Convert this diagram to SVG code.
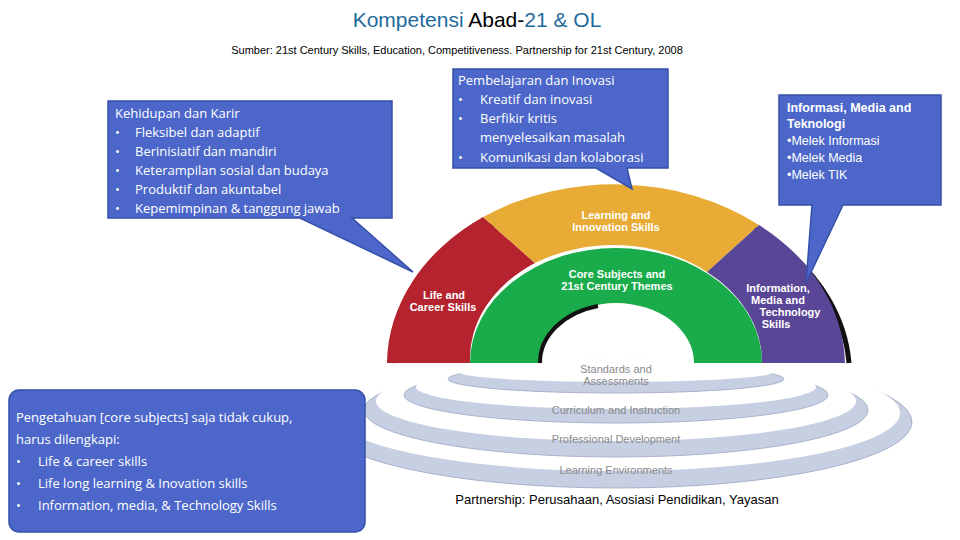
<svg xmlns="http://www.w3.org/2000/svg" width="960" height="540" viewBox="0 0 960 540">
<style>
.co{fill:#4c67c9;stroke:#3550a8;stroke-width:1.5}
.ct{fill:#fff;font-family:"Open Sans","Liberation Sans",sans-serif;font-size:13px}
.it{fill:#fff;font-family:"Liberation Sans",sans-serif;font-size:12.5px}
.rl{fill:#fff;font-family:"Liberation Sans",sans-serif;font-size:11px;font-weight:bold;text-anchor:middle}
.gl{fill:#8a8a8a;font-family:"Liberation Sans",sans-serif;font-size:11px;text-anchor:middle}
.band{fill:#c7cfe3;stroke:#aab3cc;stroke-width:1}
</style>
<rect width="960" height="540" fill="#fff"/>
<text x="477" y="27" text-anchor="middle" font-family="Liberation Sans,sans-serif" font-size="21" fill="#1f6a9c">Kompetensi <tspan fill="#000">Abad-</tspan>21 &amp; OL</text>
<text x="457" y="54" text-anchor="middle" font-family="Liberation Sans,sans-serif" font-size="11" fill="#000">Sumber: 21st Century Skills, Education, Competitiveness. Partnership for 21st Century, 2008</text>
<g id="rings">
<ellipse class="band" cx="616" cy="422" rx="296" ry="66"/><ellipse cx="616" cy="413" rx="284" ry="58" fill="#fff"/>
<ellipse class="band" cx="616" cy="410" rx="252" ry="47"/><ellipse cx="616" cy="401" rx="240" ry="40" fill="#fff"/>
<ellipse class="band" cx="616" cy="395" rx="212" ry="28"/><ellipse cx="616" cy="387" rx="200" ry="22" fill="#fff"/>
<ellipse class="band" cx="616" cy="379" rx="168" ry="14"/><ellipse cx="616" cy="372" rx="157" ry="10" fill="#fff"/>
<text class="gl" x="616" y="373">Standards and</text><text class="gl" x="616" y="385">Assessments</text>
<text class="gl" x="616" y="414">Curriculum and Instruction</text>
<text class="gl" x="616" y="443">Professional Development</text>
<text class="gl" x="616" y="474">Learning Environments</text>
</g>
<g id="rainbow">
<path d="M392 363 A229 181 0 0 1 849 363" fill="none" stroke="#111" stroke-width="5"/>
<path d="M387 363 A229 181 0 0 1 483 217 L535 263 A146 115 0 0 0 470 363 Z" fill="#b5242e"/>
<path d="M483 217 A229 181 0 0 1 759 225 L707 272 A146 115 0 0 0 535 263 Z" fill="#e8ab35"/>
<path d="M759 225 A229 181 0 0 1 845 363 L762 363 A146 115 0 0 0 707 272 Z" fill="#5a4697"/>
<path d="M470 363 A146 115 0 0 1 762 363 L694 363 A78 60 0 0 0 538 363 Z" fill="#1aac4a"/>
<path d="M540 363 A76 58 0 0 1 598 306" fill="none" stroke="#111" stroke-width="4"/>
<text class="rl" x="616" y="219" font-weight="normal">Learning and</text><text class="rl" x="616" y="231" font-weight="normal">Innovation Skills</text>
<text class="rl" x="617" y="278">Core Subjects and</text><text class="rl" x="617" y="290">21st Century Themes</text>
<text class="rl" x="444" y="299">Life and</text><text class="rl" x="443" y="311">Career Skills</text>
<text class="rl" x="778" y="292">Information,</text><text class="rl" x="778" y="304">Media and</text><text class="rl" x="790" y="316">Technology</text><text class="rl" x="776" y="328">Skills</text>
</g>
<g id="callout-life">
<path class="co" d="M108 101 H392 V218 H352 L413 272 L300 218 H108 Z"/>
<text class="ct" x="115" y="118">Kehidupan dan Karir</text>
<text class="ct" y="137"><tspan x="115">•</tspan><tspan x="135">Fleksibel dan adaptif</tspan></text>
<text class="ct" y="156"><tspan x="115">•</tspan><tspan x="135">Berinisiatif dan mandiri</tspan></text>
<text class="ct" y="175"><tspan x="115">•</tspan><tspan x="135">Keterampilan sosial dan budaya</tspan></text>
<text class="ct" y="194"><tspan x="115">•</tspan><tspan x="135">Produktif dan akuntabel</tspan></text>
<text class="ct" y="213"><tspan x="115">•</tspan><tspan x="135">Kepemimpinan &amp; tanggung jawab</tspan></text>
</g>
<g id="callout-learning">
<path class="co" d="M453 69 H668 V168 H627 L632 189 L596 168 H453 Z"/>
<text class="ct" x="458" y="85">Pembelajaran dan Inovasi</text>
<text class="ct" y="104"><tspan x="458">•</tspan><tspan x="480">Kreatif dan inovasi</tspan></text>
<text class="ct" y="123"><tspan x="458">•</tspan><tspan x="480">Berfikir kritis</tspan></text>
<text class="ct" x="480" y="142">menyelesaikan masalah</text>
<text class="ct" y="162"><tspan x="458">•</tspan><tspan x="480">Komunikasi dan kolaborasi</tspan></text>
</g>
<g id="callout-info">
<path class="co" d="M779 95 H941 V205 H843 L806 283 L812 205 H779 Z"/>
<text class="it" x="787" y="112" font-weight="bold" font-size="12">Informasi, Media and</text>
<text class="it" x="787" y="128" font-weight="bold" font-size="12">Teknologi</text>
<text class="it" x="787" y="145">•Melek Informasi</text>
<text class="it" x="787" y="162">•Melek Media</text>
<text class="it" x="787" y="179">•Melek TIK</text>
</g>
<g id="callout-core">
<rect class="co" x="9" y="390" width="356" height="142" rx="10"/>
<text class="ct" x="16" y="422" font-size="15">Pengetahuan [core subjects] saja tidak cukup,</text>
<text class="ct" x="16" y="444" font-size="15">harus dilengkapi:</text>
<text class="ct" y="466" font-size="15"><tspan x="16">•</tspan><tspan x="38">Life &amp; career skills</tspan></text>
<text class="ct" y="488" font-size="15"><tspan x="16">•</tspan><tspan x="38">Life long learning &amp; Inovation skills</tspan></text>
<text class="ct" y="510" font-size="15"><tspan x="16">•</tspan><tspan x="38">Information, media, &amp; Technology Skills</tspan></text>
</g>
<text x="617" y="504" text-anchor="middle" font-family="Liberation Sans,sans-serif" font-size="13" fill="#000">Partnership: Perusahaan, Asosiasi Pendidikan, Yayasan</text>
</svg>
